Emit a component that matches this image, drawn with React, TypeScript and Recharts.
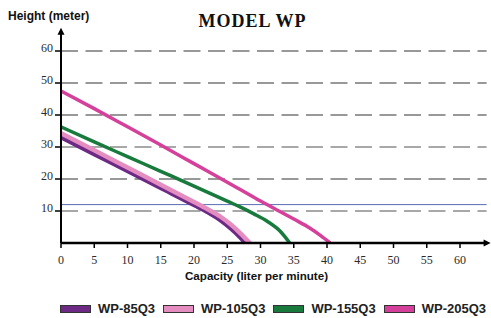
import React from 'react';
import { LineChart, Line, XAxis, YAxis, ReferenceLine, ReferenceDot } from 'recharts';

// axis ticks
const xTicks = [0, 5, 10, 15, 20, 25, 30, 35, 40, 45, 50, 55, 60];
const yTicks = [10, 20, 30, 40, 50, 60];
const markerLevel = 12;

// pump curves: capacity (l/min) vs head (m)
const wp85Flow = [0, 5, 10, 15, 20, 22, 24, 25.4, 26.9, 27.7];
const wp85Head = [33, 27.7, 22.4, 17.1, 11.8, 9.6, 7.0, 4.7, 1.8, 0];

const wp105Flow = [0, 5, 10, 15, 20, 22, 24, 25.4, 26.9, 28.4];
const wp105Head = [34.3, 29, 23.6, 18.2, 12.8, 10.6, 8.2, 6.0, 3.2, 0];

const wp155Flow = [0, 5, 10, 15, 20, 25, 27, 29, 31, 33, 34.4];
const wp155Head = [36.3, 31.6, 27, 22.4, 17.8, 13.1, 11.2, 9.1, 6.8, 3.6, 0];

const wp205Flow = [0, 5, 10, 15, 20, 25, 30, 35, 37.4, 39, 40.5];
const wp205Head = [47.5, 42, 36.3, 30.6, 24.8, 19, 13.1, 7.5, 4.7, 2.4, 0];

const toPoints = (flow: number[], head: number[]) =>
  flow.map((f, i) => ({ flow: f, head: head[i] }));

const series = [
  { name: 'WP-85Q3', data: toPoints(wp85Flow, wp85Head), color: '#6c2a85', width: 4 },
  { name: 'WP-105Q3', data: toPoints(wp105Flow, wp105Head), color: '#e58dc1', width: 4.5 },
  { name: 'WP-155Q3', data: toPoints(wp155Flow, wp155Head), color: '#187a3c', width: 3.5 },
  { name: 'WP-205Q3', data: toPoints(wp205Flow, wp205Head), color: '#d5409a', width: 3.5 },
];

const gridColor = (v: number) => (v === 30 || v === 10 ? '#a8a8a8' : '#333');
const gridWidth = (v: number) => (v === 30 || v === 10 ? 2 : 1.2);

const ArrowUp = (props: any) => {
  const { cx, cy } = props;
  return <path d={`M${cx - 3.5},${cy + 3} L${cx},${cy - 4} L${cx + 3.5},${cy + 3} Z`} fill="#000" />;
};

const ArrowRight = (props: any) => {
  const { cx, cy } = props;
  return <path d={`M${cx - 3},${cy - 3.5} L${cx + 4},${cy} L${cx - 3},${cy + 3.5} Z`} fill="#000" />;
};

const tickStyle = { fontFamily: '"Liberation Serif", "Times New Roman", serif', fontSize: 12, fill: '#2a2a2a' };
const sansBold = '"Liberation Sans", Arial, sans-serif';

export default function App() {
  return (
    <div style={{ position: 'absolute', left: 0, top: 0, width: 491, height: 318, background: '#fff' }}>
      <div style={{ position: 'absolute', left: 8, top: 9, fontFamily: sansBold, fontWeight: 700, fontSize: 12, color: '#111' }}>
        Height (meter)
      </div>
      <div style={{ position: 'absolute', left: 0, width: 505, top: 11, textAlign: 'center', fontFamily: '"Liberation Serif", "Times New Roman", serif', fontWeight: 700, fontSize: 18, letterSpacing: 1, color: '#111' }}>
        MODEL WP
      </div>
      <div style={{ position: 'absolute', left: 0, width: 513, top: 269, textAlign: 'center', fontFamily: sansBold, fontWeight: 700, fontSize: 11.6, color: '#111' }}>
        Capacity (liter per minute)
      </div>
      <div style={{ position: 'absolute', left: 60, top: 301, display: 'flex', alignItems: 'center', whiteSpace: 'nowrap' }}>
        {series.map((s) => (
          <div key={s.name} style={{ display: 'flex', alignItems: 'center', marginRight: 8 }}>
            <span
              style={{
                display: 'inline-block',
                width: 29,
                height: 6,
                background: s.color,
                border: '1px solid #333',
                marginRight: 7,
              }}
            />
            <span style={{ fontFamily: sansBold, fontWeight: 700, fontSize: 13, color: '#222' }}>{s.name}</span>
          </div>
        ))}
      </div>
      <div style={{ position: 'absolute', left: 0, top: 0 }}>
        <LineChart width={491} height={318} margin={{ top: 31.8, right: 4.4, bottom: 45, left: 0 }}>
          <XAxis
            type="number"
            dataKey="flow"
            domain={[0, 64]}
            ticks={xTicks}
            allowDuplicatedCategory={false}
            axisLine={{ stroke: '#000', strokeWidth: 2.5 }}
            tickLine={{ stroke: '#000', strokeWidth: 1.5 }}
            tickSize={5}
            tickMargin={7}
            height={30}
            tick={tickStyle}
          />
          <YAxis
            type="number"
            domain={[0, 66]}
            ticks={yTicks}
            axisLine={{ stroke: '#000', strokeWidth: 2 }}
            tickLine={{ stroke: '#000', strokeWidth: 1.5 }}
            tickSize={6}
            tickMargin={2}
            width={61}
            tick={{ ...tickStyle, dy: -3 }}
          />
          {yTicks.map((v) => (
            <ReferenceLine
              key={v}
              y={v}
              stroke={gridColor(v)}
              strokeWidth={gridWidth(v)}
              strokeDasharray="17 7.5"
            />
          ))}
          <ReferenceLine y={markerLevel} stroke="#5a6db3" strokeWidth={1} />
          {series.map((s) => (
            <Line
              key={s.name}
              name={s.name}
              data={s.data}
              dataKey="head"
              type="monotone"
              stroke={s.color}
              strokeWidth={s.width}
              dot={false}
              activeDot={false}
              isAnimationActive={false}
            />
          ))}
          <ReferenceDot x={0} y={66} ifOverflow="visible" shape={ArrowUp} />
          <ReferenceDot x={64} y={0} ifOverflow="visible" shape={ArrowRight} />
        </LineChart>
      </div>
    </div>
  );
}
